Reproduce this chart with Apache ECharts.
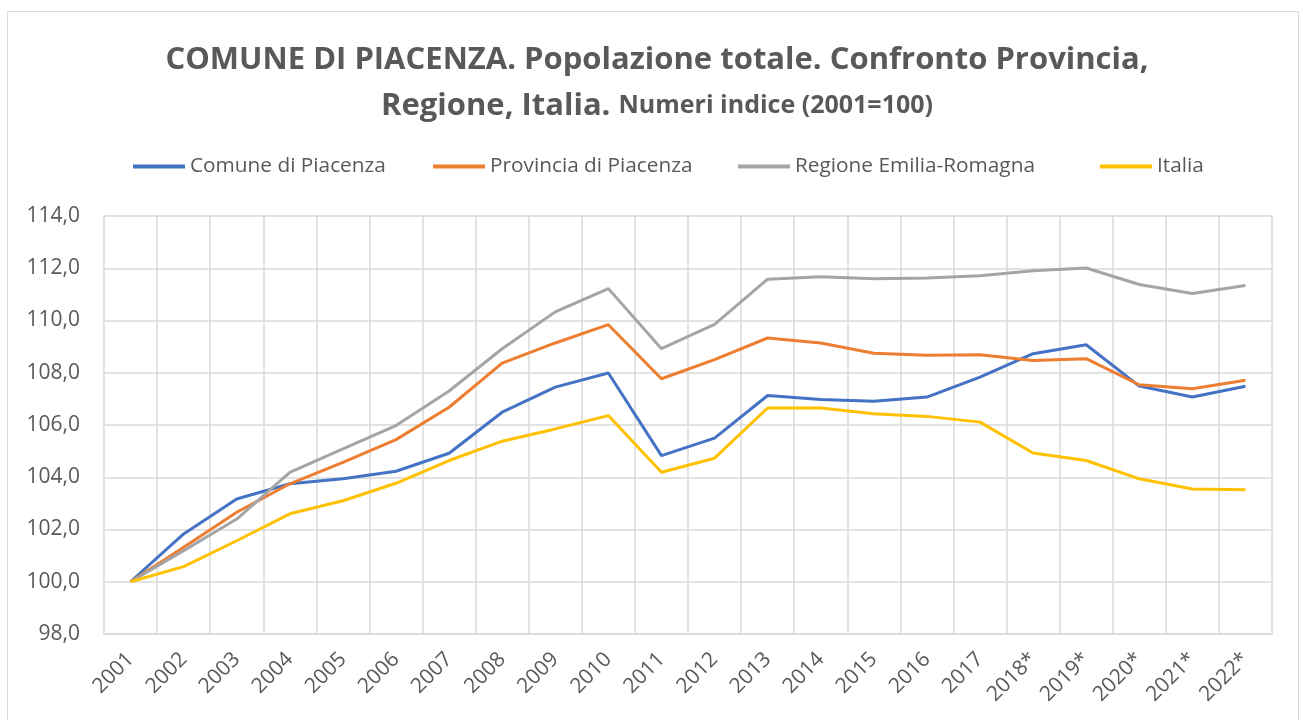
<!DOCTYPE html>
<html>
<head>
<meta charset="utf-8">
<script src="https://cdn.jsdelivr.net/npm/echarts@6/dist/echarts.min.js"></script>
<style>
  html, body { margin: 0; padding: 0; background: #fff; }
  .frame {
    position: absolute;
    left: 7px; top: 11px;
    width: 1292px; height: 720px;
    border: 1px solid #d9d9d9;
    box-sizing: border-box;
  }
  #chart { position: absolute; left: 0; top: 0; width: 1303px; height: 720px; }
</style>
</head>
<body>
<div class="frame"></div>
<div id="chart"></div>
<script>
// categories
const years = ['2001', '2002', '2003', '2004', '2005', '2006', '2007', '2008', '2009', '2010', '2011',
  '2012', '2013', '2014', '2015', '2016', '2017', '2018*', '2019*', '2020*', '2021*', '2022*']

// series values (index, 2001=100)
const comune = [100.0, 101.83, 103.17, 103.75, 103.94, 104.23, 104.92, 106.49, 107.45, 107.99, 104.83,
  105.50, 107.13, 106.98, 106.91, 107.07, 107.83, 108.73, 109.07, 107.49, 107.07, 107.48]
const provincia = [100.0, 101.32, 102.66, 103.75, 104.57, 105.44, 106.68, 108.37, 109.14, 109.84, 107.77,
  108.50, 109.33, 109.14, 108.75, 108.67, 108.69, 108.47, 108.54, 107.54, 107.39, 107.71]
const regione = [100.0, 101.19, 102.40, 104.19, 105.09, 105.98, 107.30, 108.92, 110.33, 111.22, 108.92,
  109.85, 111.58, 111.67, 111.60, 111.63, 111.71, 111.90, 112.01, 111.38, 111.03, 111.34]
const italia = [100.0, 100.58, 101.57, 102.60, 103.10, 103.77, 104.64, 105.38, 105.85, 106.36, 104.19,
  104.73, 106.65, 106.65, 106.43, 106.33, 106.11, 104.93, 104.64, 103.94, 103.55, 103.52]

const seriesNames = ['Comune di Piacenza', 'Provincia di Piacenza', 'Regione Emilia-Romagna', 'Italia']
const seriesColors = ['#4472C4', '#ED7D31', '#A5A5A5', '#FFC000']
const seriesData = [comune, provincia, regione, italia]
const legendLefts = [133, 433, 738, 1100]

const textColor = '#595959'
const gridColor = '#d9d9d9'
const font = '"Open Sans", "Noto Sans", sans-serif'

const chart = echarts.init(document.getElementById('chart'))
chart.setOption({
  animation: false,
  textStyle: { fontFamily: font },
  title: {
    text: '{a|COMUNE DI PIACENZA. Popolazione totale. Confronto Provincia,}\n{a|Regione, Italia. }{b|Numeri indice (2001=100)}',
    left: 652,
    top: 32,
    textAlign: 'center',
    textStyle: {
      rich: {
        a: { fontFamily: font, fontSize: 31, fontWeight: 'bold', color: textColor, lineHeight: 46 },
        b: { fontFamily: font, fontSize: 25, fontWeight: 'bold', color: textColor, lineHeight: 46 }
      }
    }
  },
  // one legend per entry so each sits where the original puts it
  legend: seriesNames.map((name, i) => ({
    top: 156,
    left: legendLefts[i],
    padding: 0,
    itemWidth: 52,
    itemHeight: 4,
    icon: 'rect',
    textStyle: { fontFamily: font, fontSize: 20.8, color: textColor },
    data: [name]
  })),
  grid: { left: 104, right: 31, top: 216, bottom: 86 },
  xAxis: {
    type: 'category',
    data: years,
    boundaryGap: true,
    axisLine: { lineStyle: { color: gridColor, width: 1.5 } },
    axisTick: { show: false },
    splitLine: { show: true, lineStyle: { color: gridColor, width: 1.5 } },
    axisLabel: { rotate: 45, color: textColor, fontSize: 21, margin: 22, interval: 0 }
  },
  yAxis: {
    type: 'value',
    min: 98,
    max: 114,
    interval: 2,
    axisLine: { show: false },
    axisTick: { show: false },
    splitLine: { lineStyle: { color: gridColor, width: 1.5 } },
    axisLabel: {
      color: textColor,
      fontSize: 21,
      margin: 24,
      formatter: v => v.toFixed(1).replace('.', ',')
    }
  },
  series: seriesNames.map((name, i) => ({
    name: name,
    type: 'line',
    data: seriesData[i],
    symbol: 'none',
    color: seriesColors[i],
    lineStyle: { width: 3, color: seriesColors[i] }
  }))
})
</script>
</body>
</html>
